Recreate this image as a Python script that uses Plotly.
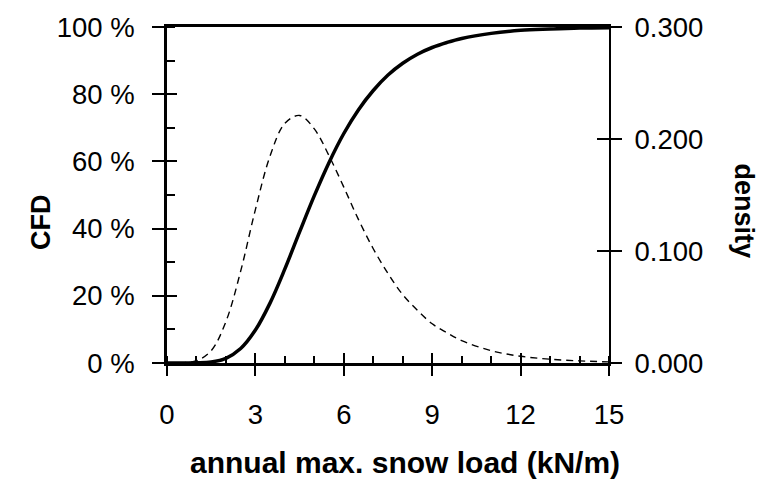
import plotly.graph_objects as go

# annual max. snow load (kN/m)
load = [0, 0.5, 1, 1.5, 2, 2.5, 3, 3.5, 4, 4.5, 5, 5.5, 6, 6.5, 7, 7.5, 8, 8.5, 9, 9.5, 10, 11, 12, 13, 14, 15]
# cumulative distribution (%)
cfd = [0, 0, 0.05, 0.3, 1.4, 4.3, 9.8, 17.9, 28.0, 39.0, 49.8, 59.7, 68.3, 75.4, 81.1, 85.7, 89.2, 91.9,
       93.9, 95.4, 96.6, 98.1, 99.0, 99.4, 99.7, 99.8]
# probability density
density = [0, 0.0002, 0.002, 0.011, 0.037, 0.082, 0.137, 0.185, 0.214, 0.221, 0.209, 0.185, 0.157, 0.128,
           0.102, 0.080, 0.061, 0.047, 0.035, 0.027, 0.020, 0.011, 0.006, 0.0034, 0.0019, 0.001]

x_ticks = [0, 3, 6, 9, 12, 15]
cfd_ticks = [0, 20, 40, 60, 80, 100]
cfd_labels = ["0 %", "20 %", "40 %", "60 %", "80 %", "100 %"]
dens_ticks = [0, 0.1, 0.2, 0.3]
dens_labels = ["0.000", "0.100", "0.200", "0.300"]

FONT = "Liberation Sans, Arial, sans-serif"
TF = dict(family=FONT, size=27.5, color="black")

fig = go.Figure()
fig.add_trace(go.Scatter(x=load, y=density, yaxis="y2", mode="lines", line_shape="spline",
                         line=dict(color="black", width=1.4, dash="7px,5px"), hoverinfo="skip"))
fig.add_trace(go.Scatter(x=load, y=cfd, mode="lines", line_shape="spline",
                         line=dict(color="black", width=3.5), hoverinfo="skip"))
# empty traces so overlay axes (inner halves of crossing ticks) are created
fig.add_trace(go.Scatter(x=[], y=[], xaxis="x2", yaxis="y3", hoverinfo="skip"))
fig.add_trace(go.Scatter(x=[], y=[], xaxis="x2", yaxis="y4", hoverinfo="skip"))

fig.update_layout(
    width=763, height=479,
    margin=dict(l=167, r=154, t=25, b=116),
    paper_bgcolor="white", plot_bgcolor="white",
    showlegend=False,
    xaxis=dict(range=[0, 15], tickvals=x_ticks, ticks="outside", ticklen=10, tickwidth=2,
               tickcolor="black", showline=True, linecolor="black", linewidth=2.5, mirror=True,
               showgrid=False, zeroline=False, tickfont=TF, ticklabelstandoff=15,
               minor=dict(dtick=1, ticks="inside", ticklen=7, tickwidth=2, tickcolor="black", showgrid=False)),
    xaxis2=dict(range=[0, 15], overlaying="x", anchor="y", side="bottom", tickvals=x_ticks,
                ticks="inside", ticklen=10, tickwidth=2, tickcolor="black", showticklabels=False,
                showline=False, showgrid=False, zeroline=False),
    yaxis=dict(range=[0, 100], tickvals=cfd_ticks, ticktext=cfd_labels, ticks="outside",
               ticklen=12, tickwidth=2, tickcolor="black", showline=True, linecolor="black",
               linewidth=2.5, showgrid=False, zeroline=False, tickfont=TF, ticklabelstandoff=12,
               minor=dict(dtick=10, ticks="inside", ticklen=8, tickwidth=2, tickcolor="black", showgrid=False)),
    yaxis2=dict(range=[0, 0.3], overlaying="y", side="right", anchor="x", tickvals=dens_ticks,
                ticktext=dens_labels, ticks="outside", ticklen=11, tickwidth=2, tickcolor="black",
                showline=True, linecolor="black", linewidth=2, showgrid=False, zeroline=False,
                tickfont=TF, ticklabelstandoff=7),
    yaxis3=dict(range=[0, 100], overlaying="y", side="left", anchor="x", tickvals=cfd_ticks,
                ticks="inside", ticklen=10, tickwidth=2, tickcolor="black", showticklabels=False,
                showline=False, showgrid=False, zeroline=False),
    yaxis4=dict(range=[0, 0.3], overlaying="y", side="right", anchor="x", tickvals=dens_ticks,
                ticks="inside", ticklen=12, tickwidth=2, tickcolor="black", showticklabels=False,
                showline=False, showgrid=False, zeroline=False),
    annotations=[
        dict(text="<b>annual max. snow load (kN/m)</b>", xref="paper", yref="paper", x=0.538, y=-0.296,
             yanchor="middle", xanchor="center", showarrow=False,
             font=dict(family=FONT, size=30, color="black")),
        dict(text="<b>CFD</b>", xref="paper", yref="paper", x=-0.285, y=0.42, textangle=-90,
             xanchor="center", yanchor="middle", showarrow=False,
             font=dict(family=FONT, size=27, color="black")),
        dict(text="<b>density</b>", xref="paper", yref="paper", x=1.306, y=0.453, textangle=90,
             xanchor="center", yanchor="middle", showarrow=False,
             font=dict(family=FONT, size=27, color="black")),
    ],
)

fig.write_html("out.html")
